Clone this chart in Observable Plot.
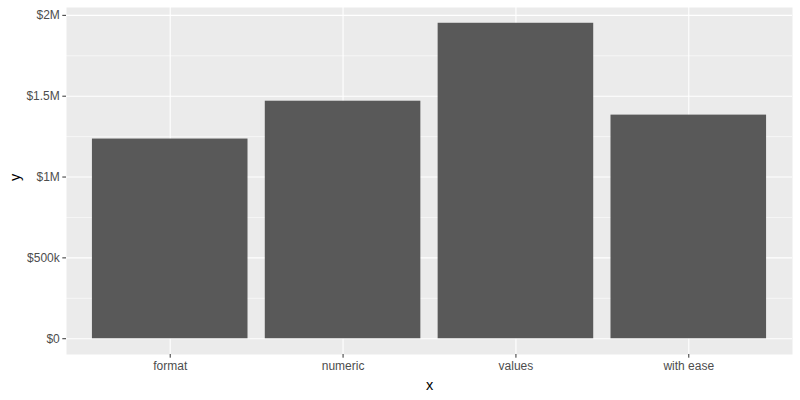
<!DOCTYPE html>
<html>
<head>
<meta charset="utf-8">
<script src="https://cdn.jsdelivr.net/npm/d3@7"></script>
<script src="https://cdn.jsdelivr.net/npm/@observablehq/plot@0.6"></script>
<style>
  html, body { margin: 0; padding: 0; background: white; }
</style>
</head>
<body>
<div id="chart"></div>
<script>
const categories = ["format", "numeric", "values", "with ease"];
const values = [1235000, 1469000, 1951000, 1383000];
const yTicks = [0, 500000, 1000000, 1500000, 2000000];
const yTickLabels = ["$0", "$500k", "$1M", "$1.5M", "$2M"];
const yMinor = [250000, 750000, 1250000, 1750000];

const data = categories.map((c, i) => ({x: c, y: values[i]}));

const chart = Plot.plot({
  width: 800,
  height: 400,
  marginLeft: 66,
  marginRight: 8,
  marginTop: 7,
  marginBottom: 46,
  style: {fontFamily: "'Liberation Sans', Arial, sans-serif", background: "white"},
  x: {domain: categories, paddingInner: 0.1, paddingOuter: 0.15, align: 0.5, round: false, axis: null},
  y: {domain: [-97550, 2048550], axis: null},
  marks: [
    Plot.frame({fill: "#EBEBEB", stroke: null}),
    Plot.gridY(yMinor, {stroke: "white", strokeOpacity: 1, strokeWidth: 0.55}),
    Plot.gridY(yTicks, {stroke: "white", strokeOpacity: 1, strokeWidth: 1.1}),
    Plot.gridX(categories, {stroke: "white", strokeOpacity: 1, strokeWidth: 1.1}),
    Plot.barY(data, {x: "x", y: "y", fill: "#595959"}),
    Plot.axisY(yTicks, {
      tickSize: 3.7, tickPadding: 3, stroke: "#333333", fill: "#4D4D4D",
      fontSize: 12, label: null,
      tickFormat: d => yTickLabels[yTicks.indexOf(d)]
    }),
    Plot.axisX(categories, {
      tickSize: 3.7, tickPadding: 3, stroke: "#333333", fill: "#4D4D4D",
      fontSize: 12, label: null
    }),
    Plot.text(["x"], {frameAnchor: "bottom", dy: 31, fontSize: 14.5, fill: "black", lineAnchor: "middle"}),
    Plot.text(["y"], {frameAnchor: "left", dx: -51, rotate: -90, fontSize: 14.5, fill: "black"})
  ]
});
document.getElementById("chart").appendChild(chart);
</script>
</body>
</html>
